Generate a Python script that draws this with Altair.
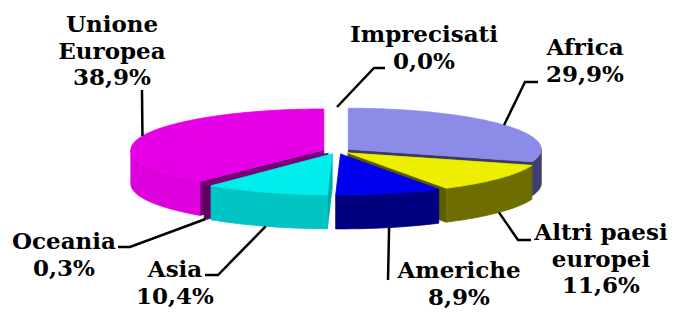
import math
import pandas as pd
import altair as alt

# ---------------- data ----------------
categories = ["Africa", "Altri paesi europei", "Americhe", "Asia", "Oceania",
              "Unione Europea", "Imprecisati"]
shares = [29.9, 11.6, 8.9, 10.4, 0.3, 38.9, 0.0]
label_names = [["Africa"], ["Altri paesi", "europei"], ["Americhe"], ["Asia"],
               ["Oceania"], ["Unione", "Europea"], ["Imprecisati"]]

# ---------------- style / layout ----------------
top_colors = ["#8c8ce8", "#eeee00", "#0000ee", "#00eeee", "#800080", "#e600e6", "#ffffff"]
side_colors = ["#3e3e70", "#6e6e00", "#00007e", "#00c4c4", "#5c005c", "#dc00dc", "#ffffff"]
cut_colors = ["#3a3a66", "#5c5c00", "#00006a", "#00a8a8", "#640064", "#720072", "#ffffff"]

CX, CY = 337, 151          # pie centre (page pixels)
A, B = 193, 41             # ellipse semi-axes
DEPTH = 34                 # thickness of the 3-D pie
EXPLODE_X, EXPLODE_Y = 14, 3
LINE_H = 26.5
FONT = "DejaVu Serif"

# label block: centre x, first baseline y
label_pos = [(585, 55), (601, 240), (459, 278), (175, 277), (64, 249), (112, 32), (424, 42)]
# leader line points after the computed start point on the slice
leader_tail = [[(525, 82), (538, 82)],
               [(518, 240), (531, 240)],
               [(388, 280)],
               [(218, 275), (205, 275)],
               [(130, 247), (118, 247)],
               [(142, 90)],
               [(374, 68), (385, 68)]]


def ell(cx, cy, ang, dy=0.0):
    r = math.radians(ang)
    return cx + A * math.sin(r), cy - B * math.cos(r) + dy


def arc(cx, cy, a0, a1, dy=0.0):
    n = max(2, int(abs(a1 - a0)) + 1)
    return [ell(cx, cy, a0 + (a1 - a0) * k / (n - 1), dy) for k in range(n)]


total = sum(shares)
geo = []
cum = 0.0
for i, v in enumerate(shares):
    s = cum / total * 360
    t = (cum + v) / total * 360
    m = (s + t) / 2
    cum += v
    mr = math.radians(m)
    cx = CX + EXPLODE_X * math.sin(mr)
    cy = CY - EXPLODE_Y * math.cos(mr)
    geo.append(dict(i=i, s=s, t=t, m=m, cx=cx, cy=cy))

poly_rows = []
counter = [0]


def add_poly(pts, color):
    key = f"p{counter[0]:03d}"
    counter[0] += 1
    for j, (x, y) in enumerate(pts):
        poly_rows.append(dict(key=key, order=j, x=x, y=y, fill=color))


# walls, back to front
drawn = [g for g in geo if shares[g["i"]] > 0]
for g in sorted(drawn, key=lambda g: -math.cos(math.radians(g["m"]))):
    i, s, t, cx, cy = g["i"], g["s"], g["t"], g["cx"], g["cy"]
    if math.sin(math.radians(s)) < 0:
        e0, e1 = ell(cx, cy, s), ell(cx, cy, s, DEPTH)
        add_poly([(cx, cy), e0, e1, (cx, cy + DEPTH)], cut_colors[i])
    if math.sin(math.radians(t)) > 0:
        e0, e1 = ell(cx, cy, t), ell(cx, cy, t, DEPTH)
        add_poly([(cx, cy), e0, e1, (cx, cy + DEPTH)], cut_colors[i])
    lo, hi = max(s, 90), min(t, 270)
    if hi > lo:
        top = arc(cx, cy, lo, hi)
        bot = arc(cx, cy, lo, hi, DEPTH)
        add_poly(top + bot[::-1], side_colors[i])

# top faces
for g in drawn:
    i = g["i"]
    add_poly([(g["cx"], g["cy"])] + arc(g["cx"], g["cy"], g["s"], g["t"]), top_colors[i])

poly_df = pd.DataFrame(poly_rows)

# leader lines
lead_rows = []
for g in geo:
    i = g["i"]
    dy = DEPTH if math.cos(math.radians(g["m"])) < 0 else 0
    pts = [ell(g["cx"], g["cy"], g["m"], dy)] + leader_tail[i]
    for j, (x, y) in enumerate(pts):
        lead_rows.append(dict(key=f"l{i}", order=j, x=x, y=y))
lead_df = pd.DataFrame(lead_rows)

# labels
text_rows = []
for i, v in enumerate(shares):
    lines = label_names[i] + [f"{v:.1f}".replace(".", ",") + "%"]
    lx, ly = label_pos[i]
    for j, ln in enumerate(lines):
        text_rows.append(dict(x=lx, y=ly + j * LINE_H, text=ln))
text_df = pd.DataFrame(text_rows)

X = alt.X("x:Q", scale=alt.Scale(domain=[8, 669], nice=False, zero=False), axis=None)
Y = alt.Y("y:Q", scale=alt.Scale(domain=[8, 309], nice=False, zero=False, reverse=True), axis=None)

polys = alt.Chart(poly_df).mark_line(
    filled=True, interpolate="linear-closed", strokeWidth=0.8
).encode(
    x=X, y=Y, detail="key:N", order="order:Q",
    fill=alt.Fill("fill:N", scale=None),
    stroke=alt.Stroke("fill:N", scale=None),
)

leaders = alt.Chart(lead_df).mark_line(color="black", strokeWidth=2.5).encode(
    x=X, y=Y, detail="key:N", order="order:Q"
)

texts = alt.Chart(text_df).mark_text(
    font=FONT, fontWeight="bold", fontSize=23,
    align="center", baseline="alphabetic", color="black"
).encode(x=X, y=Y, text="text:N")

chart = alt.layer(polys, leaders, texts).properties(
    width=661, height=301, padding=0,
    autosize=alt.AutoSizeParams(type="none"),
).configure_view(stroke=None)

chart.save("out.html", embed_options={"renderer": "svg", "actions": False})
